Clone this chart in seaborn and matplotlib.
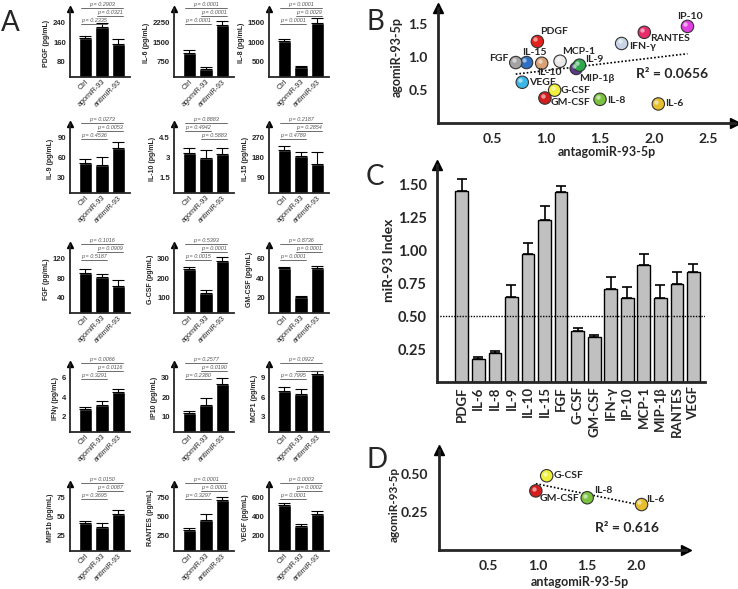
import numpy as np
import matplotlib
matplotlib.use("Agg")
import matplotlib.pyplot as plt
import matplotlib.transforms as mtransforms
import seaborn as sns

# ---------------- data ----------------
# Panel A: cytokine levels (pg/mL) for Ctrl / agomiR-93 / antimiR-93
groups = ["Ctrl", "agomiR-93", "antimiR-93"]
cyto_A = ["PDGF", "IL-6", "IL-8", "IL-9", "IL-10", "IL-15", "FGF", "G-CSF", "GM-CSF",
          "IFNγ", "IP10", "MCP1", "MIP1b", "RANTES", "VEGF"]
mean_A = [[175, 220, 153], [1090, 450, 2170], [1020, 350, 1500],
          [51, 48, 75], [3.35, 3.0, 3.25], [214, 187, 149],
          [91, 82, 64], [247, 125, 290], [50, 20, 50],
          [2.8, 3.2, 4.5], [11.7, 16, 26.5], [6.9, 6.5, 9.5],
          [42, 36, 53], [330, 460, 710], [520, 300, 430]]
err_A = [[10, 17, 18], [100, 80, 140], [70, 25, 110],
         [7, 13, 8], [0.35, 0.55, 0.45], [20, 18, 54],
         [8, 7, 12], [10, 13, 16], [1.5, 1, 2],
         [0.2, 0.35, 0.3], [1.3, 3.5, 3.5], [0.6, 0.7, 0.5],
         [2.5, 6, 6], [20, 75, 45], [25, 20, 25]]
tick_A = [80, 750, 500, 30, 1.5, 90, 40, 100, 20, 2, 10, 3, 25, 250, 200]
# p-values: Ctrl vs antimiR, agomiR vs antimiR, Ctrl vs agomiR
p_A = [["0.2903", "0.0321", "0.2335"], ["0.0001", "0.0001", "0.0001"],
       ["0.0001", "0.0029", "0.0001"], ["0.0273", "0.0053", "0.4536"],
       ["0.8883", "0.5883", "0.4942"], ["0.2187", "0.2854", "0.4789"],
       ["0.1016", "0.0909", "0.5187"], ["0.5393", "0.0001", "0.0015"],
       ["0.8736", "0.0001", "0.0001"], ["0.0066", "0.0116", "0.3291"],
       ["0.2577", "0.0190", "0.2380"], ["0.0922", "", "0.7995"],
       ["0.0150", "0.0087", "0.3695"], ["0.0001", "0.0001", "0.3297"],
       ["0.0003", "0.0002", "0.0001"]]

# Panel B: agomiR vs antagomiR index
cyto_B = ["PDGF", "IL-15", "FGF", "MCP-1", "IL-10", "MIP-1β", "IL-9", "VEGF", "G-CSF",
          "GM-CSF", "IL-8", "IL-6", "IFN-γ", "RANTES", "IP-10"]
antago_B = [0.92, 0.82, 0.72, 1.13, 0.96, 1.28, 1.31, 0.78, 1.08, 0.99, 1.50, 2.04, 1.70, 1.91, 2.31]
ago_B = [1.24, 0.92, 0.92, 0.94, 0.91, 0.83, 0.88, 0.62, 0.50, 0.38, 0.36, 0.29, 1.21, 1.38, 1.47]

# Panel C: miR-93 index
cyto_C = ["PDGF", "IL-6", "IL-8", "IL-9", "IL-10", "IL-15", "FGF", "G-CSF", "GM-CSF",
          "IFN-γ", "IP-10", "MCP-1", "MIP-1β", "RANTES", "VEGF"]
index_C = [1.45, 0.175, 0.22, 0.645, 0.975, 1.23, 1.445, 0.385, 0.34, 0.705, 0.635, 0.89, 0.64, 0.745, 0.835]
err_C = [0.095, 0.015, 0.017, 0.09, 0.08, 0.11, 0.045, 0.025, 0.02, 0.095, 0.085, 0.085, 0.095, 0.09, 0.065]

# Panel D: subset
cyto_D = ["G-CSF", "GM-CSF", "IL-8", "IL-6"]
antago_D = [1.09, 0.98, 1.50, 2.05]
ago_D = [0.49, 0.39, 0.345, 0.30]

colors = {"PDGF": "#e3201c", "IL-15": "#2c6fc4", "FGF": "#a3a3a3", "MCP-1": "#e9e9e9",
          "IL-10": "#d9a274", "MIP-1β": "#5a3a8c", "IL-9": "#2ea84e", "VEGF": "#3cb6e6",
          "G-CSF": "#f0f03a", "GM-CSF": "#d41e1e", "IL-8": "#7cc241", "IL-6": "#e6be2e",
          "IFN-γ": "#c8d5e6", "RANTES": "#e52e6a", "IP-10": "#e03fe0"}
# label offsets in pixels (dx, dy up), horizontal alignment
lab_B = {"PDGF": (3, 10, "left"), "IL-15": (8, 10, "center"), "FGF": (-7, 4, "right"),
         "MCP-1": (2, 10, "left"), "IL-10": (-5, -9, "left"), "MIP-1β": (3, -10, "left"),
         "IL-9": (6, 6, "left"), "VEGF": (7, 0, "left"), "G-CSF": (6, 0, "left"),
         "GM-CSF": (6, -4, "left"), "IL-8": (7, -1, "left"), "IL-6": (7, 0, "left"),
         "IFN-γ": (8, -3, "left"), "RANTES": (6, -6, "left"), "IP-10": (2, 10, "center")}
lab_D = {"G-CSF": (7, 0, "left"), "GM-CSF": (4, -8, "left"),
         "IL-8": (7, 7, "left"), "IL-6": (5, 5, "left")}

# ---------------- figure ----------------
sns.set_style("white")
plt.rcParams["font.family"] = ["Liberation Sans", "DejaVu Sans"]
BOLD_FONT = ["Lato", "DejaVu Sans"]

W, H = 738, 589
fig = plt.figure(figsize=(W / 100, H / 100), dpi=100)


def rect(l, t, r, b):
    return [l / W, 1 - b / H, (r - l) / W, (b - t) / H]


def arrow_axes(ax, lw, ms, xarrow=False):
    sns.despine(ax=ax)
    for s in ("left", "bottom"):
        ax.spines[s].set_linewidth(lw)
    ax.plot(0, 1, marker="^", color="k", ms=ms, transform=ax.transAxes, clip_on=False)
    if xarrow:
        ax.plot(1, 0, marker=">", color="k", ms=ms, transform=ax.transAxes, clip_on=False)


# ---- Panel A ----
col_left = [70, 174, 269]
rows = [(9, 77), (124, 193), (245, 313), (364, 432), (484, 551)]
p_levels = [1.02, 0.90, 0.78]
for i, name in enumerate(cyto_A):
    r, c = divmod(i, 3)
    ax = fig.add_axes(rect(col_left[c], rows[r][0], col_left[c] + 60, rows[r][1]))
    sns.barplot(x=groups, y=mean_A[i], color="black", width=0.8, errorbar=None,
                saturation=1, ax=ax)
    ax.errorbar(range(3), mean_A[i], yerr=[np.zeros(3), err_A[i]], fmt="none",
                ecolor="k", elinewidth=0.8, capsize=4.5, capthick=0.8)
    a = tick_A[i]
    ax.set_ylim(0.2 * a, 3.7 * a)
    ax.set_xlim(-0.94, 2.7)
    ax.set_yticks([a, 2 * a, 3 * a])
    ax.set_yticklabels(["{:g}".format(v) for v in (a, 2 * a, 3 * a)],
                       fontsize=5.6, fontweight="bold")
    ax.tick_params(axis="y", direction="inout", length=4, width=1, pad=1)
    ax.tick_params(axis="x", length=0, pad=1)
    ax.set_xticks(range(3))
    ax.set_xticklabels(groups, rotation=45, ha="right", rotation_mode="anchor", fontsize=5.2)
    ax.set_xlabel("")
    ax.set_ylabel(name + " (pg/mL)", fontsize=5, fontweight="bold", labelpad=2)
    arrow_axes(ax, 1.3, 4.5)
    pairs = [(0, 2), (1, 2), (0, 1)]
    levels = list(p_levels)
    if name == "IL-10":
        levels = [1.02, 0.78, 0.90]
    tr = ax.get_xaxis_transform()
    for (g0, g1), p, yl in zip(pairs, p_A[i], levels):
        ax.plot([g0 - 0.3, g1 + 0.3], [yl, yl], color="#555555", lw=0.6,
                transform=tr, clip_on=False)
        if p:
            ax.text((g0 + g1) / 2, yl + 0.01, "p = " + p, fontsize=4, style="italic",
                    color="#555555", ha="center", va="bottom", transform=tr, clip_on=False)

# ---- Panel B ----
axB = fig.add_axes(rect(438, 8, 735, 123))
sns.regplot(x=antago_B, y=ago_B, scatter=False, ci=None, color="k",
            line_kws=dict(ls=(0, (1, 1.2)), lw=1.2), ax=axB)
sns.scatterplot(x=antago_B, y=ago_B, hue=cyto_B, palette=colors, s=80,
                edgecolor="#333333", linewidth=0.8, legend=False, ax=axB, zorder=3)
hl = mtransforms.offset_copy(axB.transData, fig=fig, x=-1.5, y=1.5, units="points")
axB.scatter(antago_B, ago_B, s=10, color="white", alpha=0.55, lw=0, transform=hl, zorder=4)
for n, x, y in zip(cyto_B, antago_B, ago_B):
    dx, dy, ha = lab_B[n]
    axB.annotate(n, (x, y), xytext=(dx * 0.72, dy * 0.72), textcoords="offset points",
                 ha=ha, va="center", fontsize=7.5, fontweight="bold", family=BOLD_FONT)
axB.text(2.17, 0.74, "R² = 0.0656", fontsize=10, fontweight="bold", family=BOLD_FONT,
         ha="center", va="center")
axB.set_xlim(0, 2.75)
axB.set_ylim(0, 1.75)
axB.set_xticks([0.5, 1.0, 1.5, 2.0, 2.5])
axB.set_yticks([0.5, 1.0, 1.5])
arrow_axes(axB, 2, 7, xarrow=True)

# ---- Panel C ----
axC = fig.add_axes(rect(437, 165, 705, 382))
sns.barplot(x=cyto_C, y=index_C, color="#c0c0c0", saturation=1, width=0.77,
            edgecolor="black", linewidth=1, errorbar=None, ax=axC)
axC.errorbar(range(len(cyto_C)), index_C, yerr=[np.zeros(len(cyto_C)), err_C],
             fmt="none", ecolor="k", elinewidth=1.2, capsize=3.8, capthick=1.2)
axC.axhline(0.5, color="k", ls=(0, (1, 1)), lw=1)
axC.set_xlim(-1.5, 14.7)
axC.set_ylim(0, 1.65)
axC.set_yticks([0.25, 0.5, 0.75, 1.0, 1.25, 1.5])
axC.set_yticklabels(["0.25", "0.50", "0.75", "1.00", "1.25", "1.50"])
axC.set_xticks(range(len(cyto_C)))
axC.set_xticklabels(cyto_C, rotation=90)
axC.tick_params(axis="x", length=0, pad=3)
axC.set_ylabel("miR-93 Index", fontsize=10, fontweight="bold", family=BOLD_FONT)
axC.yaxis.set_label_coords(-0.157, 0.56)
arrow_axes(axC, 2, 7)

# ---- Panel D ----
axD = fig.add_axes(rect(439, 450, 686, 550))
sns.regplot(x=antago_D, y=ago_D, scatter=False, ci=None, color="k",
            line_kws=dict(ls=(0, (1, 1.2)), lw=1.2), ax=axD)
sns.scatterplot(x=antago_D, y=ago_D, hue=cyto_D, palette=colors, s=80,
                edgecolor="#333333", linewidth=0.8, legend=False, ax=axD, zorder=3)
hl = mtransforms.offset_copy(axD.transData, fig=fig, x=-1.5, y=1.5, units="points")
axD.scatter(antago_D, ago_D, s=10, color="white", alpha=0.55, lw=0, transform=hl, zorder=4)
for n, x, y in zip(cyto_D, antago_D, ago_D):
    dx, dy, ha = lab_D[n]
    axD.annotate(n, (x, y), xytext=(dx * 0.72, dy * 0.72), textcoords="offset points",
                 ha=ha, va="center", fontsize=7.5, fontweight="bold", family=BOLD_FONT)
axD.text(1.9, 0.144, "R² = 0.616", fontsize=10, fontweight="bold", family=BOLD_FONT,
         ha="center", va="center")
axD.set_xlim(0, 2.5)
axD.set_ylim(0, 0.66)
axD.set_xticks([0.5, 1.0, 1.5, 2.0])
axD.set_yticks([0.25, 0.5])
axD.set_yticklabels(["0.25", "0.50"])
arrow_axes(axD, 2, 7, xarrow=True)

for ax in (axB, axC, axD):
    for lab in ax.get_xticklabels() + ax.get_yticklabels():
        lab.set_fontweight("bold")
        lab.set_fontfamily(BOLD_FONT)
        lab.set_fontsize(10 if ax is not axC else 9.5)
    ax.tick_params(axis="y", direction="inout", length=8, width=1.5, labelsize=10)
for lab in axC.get_yticklabels():
    lab.set_fontsize(10.5)
for ax in (axB, axD):
    ax.tick_params(axis="x", direction="inout", length=8, width=1.5)

axB.set_xlabel("antagomiR-93-5p", fontsize=9, fontweight="bold", family=BOLD_FONT)
axB.set_ylabel("agomiR-93-5p", fontsize=9, fontweight="bold", family=BOLD_FONT)
axB.xaxis.set_label_coords(0.57, -0.2)
axB.yaxis.set_label_coords(-0.12, 0.57)
axD.set_xlabel("antagomiR-93-5p", fontsize=9, fontweight="bold", family=BOLD_FONT)
axD.set_ylabel("agomiR-93-5p", fontsize=8.5, fontweight="bold", family=BOLD_FONT)
axD.xaxis.set_label_coords(0.57, -0.26)
axD.yaxis.set_label_coords(-0.158, 0.45)

for letter, (px, py) in {"A": (10, 23), "B": (375, 22), "C": (375, 177), "D": (377, 460)}.items():
    fig.text(px / W, 1 - py / H, letter, fontsize=20, family=BOLD_FONT,
             ha="center", va="center")

fig.savefig("out.png", dpi=100)
